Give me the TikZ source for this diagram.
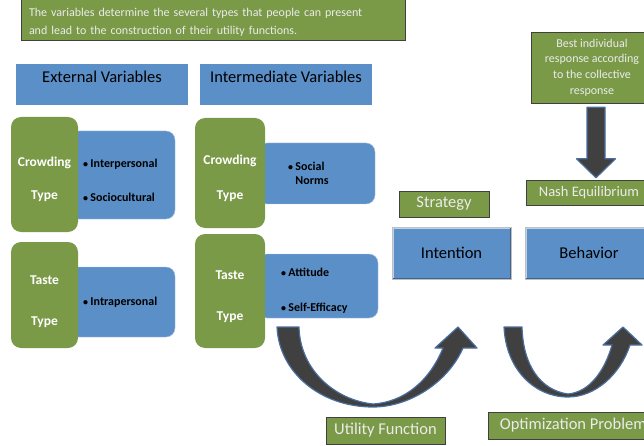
\documentclass[tikz,border=0pt]{standalone}
\usepackage{fontspec}
\setmainfont{Carlito}
\usepackage{tikz}
\usetikzlibrary{calc}
\definecolor{bgreen}{HTML}{7A9A48}
\definecolor{bblue}{HTML}{5B8FC8}
\definecolor{bdark}{HTML}{404040}
\definecolor{bedge}{HTML}{4A6E9E}
\newcommand{\pad}[1]{\rule{0pt}{#1}}
\newcommand{\bul}{{\fontsize{10}{10}\selectfont\textbullet}\hspace{2.5pt}}
\tikzstyle{header} = [rectangle, fill=bblue, minimum width=172pt, inner ysep=6pt, text height=12.5pt, text depth=16.5pt, font=\fontsize{16.5}{19}\selectfont]
\tikzstyle{gbox} = [rectangle, rounded corners=10pt, fill=bgreen, text=white, align=center, font=\bfseries\fontsize{13.5}{16}\selectfont]
\tikzstyle{bbox} = [rectangle, rounded corners=9pt, fill=bblue, draw=bblue!55!white, align=left, font=\bfseries\fontsize{12}{14.5}\selectfont]
\tikzstyle{tag} = [rectangle, fill=bgreen, draw=black!75, text=white!92!black, font=\fontsize{16.5}{19}\selectfont]
\tikzstyle{stage} = [rectangle, fill=bblue, draw=black!25, minimum height=52pt, font=\fontsize{16.5}{19}\selectfont,
  path picture={\draw[bblue!40!white, line width=3pt] (path picture bounding box.south west) |- (path picture bounding box.north east);
                \draw[bblue!70!black, line width=2pt] (path picture bounding box.south west) -| (path picture bounding box.north east);}]
\tikzstyle{bigarrow} = [fill=bdark, draw=bedge, line width=1.2pt, line join=round]

\begin{document}
\begin{tikzpicture}[x=1pt, y=-1pt]
    \useasboundingbox (0,0) rectangle (644,446);

    % note on top
    \node[tag, minimum width=384pt, minimum height=41pt, inner xsep=8pt, text width=368pt, align=left,
      font=\fontsize{12}{18}\selectfont] at (213, 18.5) (note)
      {\pad{16pt}The variables determine the several types that people can present\\and lead to the construction of their utility functions.};

    % column headers
    \node[header] at (102, 84.5) (extvar) {External Variables};
    \node[header] at (286, 84.5) (intvar) {Intermediate Variables};

    % variable lists (drawn first, the type boxes overlap them)
    \node[bbox, minimum height=88pt, inner xsep=13pt, text width=79pt] at (122.5, 175) (extcrowd)
      {\pad{19pt}\bul Interpersonal\\[19.5pt]\bul Sociocultural};
    \node[bbox, minimum height=70pt, inner xsep=13pt, text width=79pt] at (122.5, 302) (exttaste)
      {\bul Intrapersonal};
    \node[bbox, minimum height=61pt, inner xsep=30pt, text width=57pt] at (316.5, 173.5) (intcrowd)
      {\bul Social\\\phantom{\bul}Norms};
    \node[bbox, minimum height=64pt, inner xsep=23pt, text width=74pt] at (318, 286) (inttaste)
      {\pad{18pt}\bul Attitude\\[20.5pt]\bul Self-Efficacy};

    % types
    \node[gbox, minimum width=67pt, minimum height=115pt] at (44.5, 174.5) (crowd0) {\pad{20pt}Crowding\\[17pt]Type};
    \node[gbox, minimum width=67pt, minimum height=106pt] at (44.5, 295) (taste0) {\pad{23pt}Taste\\[25pt]Type};
    \node[gbox, minimum width=70pt, minimum height=110pt] at (230, 173) (crowd1) {\pad{21pt}Crowding\\[19pt]Type};
    \node[gbox, minimum width=70pt, minimum height=114pt] at (230, 291) (taste1) {\pad{21pt}Taste\\[25pt]Type};

    % intention and behavior
    \node[stage, minimum width=119pt] at (451.5, 253) (intention) {Intention};
    \node[stage, minimum width=128pt] at (589, 253) (behavior) {Behavior};

    \node[tag, minimum width=90pt, minimum height=26pt] at (444, 204) (strategy) {Strategy};
    \node[tag, minimum width=126pt, minimum height=25pt, font=\fontsize{14.5}{17}\selectfont] at (589, 192.5) (nash) {Nash Equilibrium};
    \node[tag, minimum width=122pt, minimum height=71pt, align=center, font=\fontsize{12}{15.7}\selectfont] at (592, 67.5) (best)
      {Best individual\\response according\\to the collective\\response};

    \node[tag, minimum width=119pt, minimum height=27pt] at (385.5, 430.5) (utility) {Utility Function};
    \node[tag, minimum width=170pt, minimum height=27pt, anchor=west] at (488, 425.5) (optim) {Optimization Problem};

    % best response -> nash
    \coordinate (dtop) at ($(best.south)+(4,4)$);
    \coordinate (dtip) at ($(nash.north)+(7,-2)$);
    \filldraw[bigarrow] ($(dtop)+(-9,0)$) -- ($(dtop)+(9,0)$) -- ($(dtip)+(9,-19)$) -- ($(dtip)+(19.5,-19)$)
      -- (dtip) -- ($(dtip)+(-19.5,-19)$) -- ($(dtip)+(-9,-19)$) -- cycle;

    % curved arrows
    \filldraw[bigarrow] (277,327) .. controls (279,372) and (320,407) .. (373,407)
      .. controls (410,407) and (448,382) .. (463,348) -- (477,348) -- (458,327) -- (435,348) -- (443,348)
      .. controls (430,380) and (405,402) .. (373,404)
      .. controls (335,400) and (300,370) .. (299,327) -- cycle;
    \filldraw[bigarrow] (504,327) .. controls (506,370) and (535,397) .. (568,397)
      .. controls (595,397) and (620,375) .. (630,345) -- (642,345) -- (623,327) -- (603,345) -- (612,345)
      .. controls (605,370) and (590,392) .. (568,394)
      .. controls (540,390) and (523,365) .. (522,327) -- cycle;
\end{tikzpicture}
\end{document}
